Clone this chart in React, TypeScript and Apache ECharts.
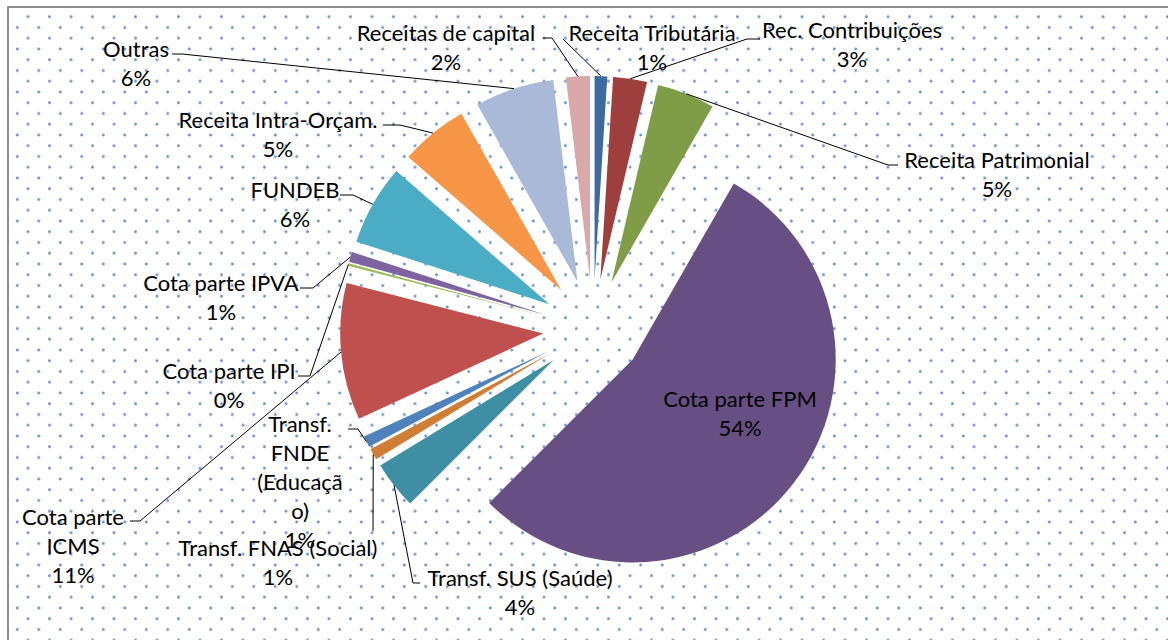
import React, { useEffect, useRef } from "react";
import * as echarts from "echarts";

// ---- data ----
const categories = [
  "Receita Tributária",
  "Rec. Contribuições",
  "Receita Patrimonial",
  "Cota parte FPM",
  "Transf. SUS (Saúde)",
  "Transf. FNAS (Social)",
  "Transf. FNDE (Educação)",
  "Cota parte ICMS",
  "Cota parte IPI",
  "Cota parte IPVA",
  "FUNDEB",
  "Receita Intra-Orçam.",
  "Outras",
  "Receitas de capital",
];
const values = [1.0, 2.7, 4.6, 54.2, 3.8, 0.9, 0.9, 10.9, 0.2, 0.8, 6.4, 5.4, 6.3, 1.9];
// label text as wrapped in the original
const labelTexts = [
  ["Receita Tributária"],
  ["Rec. Contribuições"],
  ["Receita Patrimonial"],
  ["Cota parte FPM"],
  ["Transf. SUS (Saúde)"],
  ["Transf. FNAS (Social)"],
  ["Transf.", "FNDE", "(Educaçã", "o)"],
  ["Cota parte", "ICMS"],
  ["Cota parte IPI"],
  ["Cota parte IPVA"],
  ["FUNDEB"],
  ["Receita Intra-Orçam."],
  ["Outras"],
  ["Receitas de capital"],
];

// ---- style / layout ----
const colors = [
  "#3E6A9F", "#9E3F3D", "#7F9C47", "#674F84", "#3E8FA4", "#D07E35", "#4F81BD",
  "#C0504D", "#9BBB59", "#7F63A0", "#4BACC6", "#F79646", "#A9B9D7", "#D8A9A8",
];
const CX = 593;
const CY = 329;
const R = 203;
const OFFSET = 50;
const FONT = "22px Lato";
const LH = 29;
// label block position (center x, first line center y) and leader points (excluding anchor)
const labelLayout: { x: number; y: number; pts: number[][] | null }[] = [
  { x: 652, y: 32, pts: [[563, 39]] },
  { x: 852, y: 29, pts: [[747, 39], [760, 39]] },
  { x: 997, y: 159, pts: [[888, 165], [898, 165]] },
  { x: 740, y: 398, pts: null },
  { x: 520, y: 577, pts: [[413, 583], [420, 583]] },
  { x: 278, y: 547, pts: [[373, 531]] },
  { x: 300, y: 423, pts: [[358, 429], [348, 429]] },
  { x: 73, y: 516, pts: [[140, 521], [130, 521]] },
  { x: 229, y: 370, pts: [[310, 376], [298, 376]] },
  { x: 221, y: 282, pts: [[313, 288], [300, 288]] },
  { x: 295, y: 189, pts: [[353, 195], [340, 195]] },
  { x: 278, y: 119, pts: [[400, 125], [383, 125]] },
  { x: 136, y: 48, pts: [[182, 54], [172, 54]] },
  { x: 446, y: 32, pts: [[552, 38], [543, 38]] },
];

export default function App() {
  const ref = useRef<HTMLDivElement>(null);

  useEffect(() => {
    if (!ref.current) return;
    const chart = echarts.init(ref.current, undefined, { renderer: "svg" });
    const total = values.reduce((a, b) => a + b, 0);

    const graphics: any[] = [];
    let cum = 0;
    values.forEach((v, i) => {
      const start = (cum / total) * 360;
      cum += v;
      const end = (cum / total) * 360;
      const mid = ((start + end) / 2) * Math.PI / 180;
      const anchor = [CX + (R + OFFSET) * Math.sin(mid), CY - (R + OFFSET) * Math.cos(mid)];
      const pct = Math.round((v / total) * 100) + "%";
      const lay = labelLayout[i];
      if (lay.pts) {
        graphics.push({
          type: "polyline",
          silent: true,
          z: 10,
          shape: { points: [anchor, ...lay.pts] },
          style: { stroke: "#000", lineWidth: 1, fill: null },
        });
      }
      graphics.push({
        type: "text",
        silent: true,
        z: 11,
        x: lay.x,
        y: lay.y - LH / 2,
        style: {
          text: [...labelTexts[i], pct].join("\n"),
          font: FONT,
          fill: "#000",
          align: "center",
          verticalAlign: "top",
          textAlign: "center",
          textVerticalAlign: "top",
          lineHeight: LH,
        },
      });
    });

    chart.setOption({
      animation: false,
      color: colors,
      graphic: { elements: graphics },
      series: [
        {
          type: "pie",
          center: [CX, CY],
          radius: R,
          startAngle: 90,
          clockwise: true,
          selectedMode: "multiple",
          selectedOffset: OFFSET,
          avoidLabelOverlap: false,
          label: { show: false },
          labelLine: { show: false },
          emphasis: { disabled: true, scale: false },
          itemStyle: { borderWidth: 0 },
          data: categories.map((name, i) => ({ name, value: values[i], selected: true })),
        },
      ],
    });
    return () => chart.dispose();
  }, []);

  const dot = (x: number, y: number) =>
    `radial-gradient(circle at ${x}px ${y}px, rgba(79,129,199,0.95) 0px, rgba(79,129,199,0.8) 1px, rgba(79,129,199,0) 1.9px)`;

  return (
    <div style={{ position: "absolute", left: 0, top: 0, width: 1168, height: 640, overflow: "hidden", background: "#fff" }}>
      <div
        style={{
          position: "absolute",
          left: 7,
          top: 6,
          width: 1250,
          height: 750,
          border: "2px solid #8f8f8f",
          backgroundColor: "#fff",
          backgroundImage: `${dot(19, 8.7)}, ${dot(8.25, 19.5)}`,
          backgroundSize: "21.5px 21.5px",
        }}
      />
      <div ref={ref} style={{ position: "absolute", left: 0, top: 0, width: 1168, height: 640 }} />
    </div>
  );
}
